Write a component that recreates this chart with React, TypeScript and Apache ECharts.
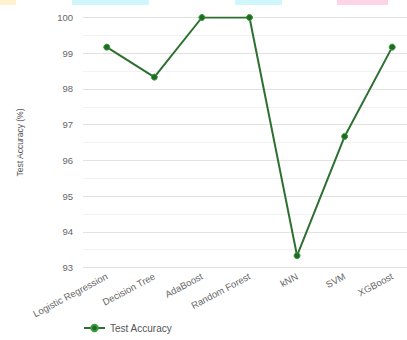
import React, { useEffect, useRef } from "react";
import * as echarts from "echarts";

// Test-set accuracy of each classifier (%)
const models = [
  "Logistic Regression",
  "Decision Tree",
  "AdaBoost",
  "Random Forest",
  "kNN",
  "SVM",
  "XGBoost",
];
const accuracy = [99.17, 98.33, 100, 100, 93.33, 96.67, 99.17];
const seriesName = "Test Accuracy";
const yAxisTitle = "Test Accuracy (%)";

export default function App() {
  const ref = useRef<HTMLDivElement>(null);

  useEffect(() => {
    if (!ref.current) return;
    const chart = echarts.init(ref.current, undefined, { renderer: "svg" });
    chart.setOption({
      animation: false,
      backgroundColor: "#ffffff",
      textStyle: { fontFamily: "Liberation Sans, Arial, sans-serif" },
      graphic: [
        { type: "rect", shape: { x: 0, y: 0, width: 16, height: 5 }, style: { fill: "#fff3cf" } },
        { type: "rect", shape: { x: 72, y: 0, width: 77, height: 5 }, style: { fill: "#cff7fb" } },
        { type: "rect", shape: { x: 235, y: 0, width: 47, height: 5 }, style: { fill: "#cff7fb" } },
        { type: "rect", shape: { x: 337, y: 0, width: 51, height: 5 }, style: { fill: "#fcd4e6" } },
      ],
      grid: { left: 83, right: 0, top: 17.5, bottom: 72.5 },
      legend: {
        data: [seriesName],
        left: 83,
        top: 323,
        padding: 0,
        itemWidth: 21,
        itemHeight: 8,
        textStyle: { color: "#555", fontSize: 10 },
      },
      xAxis: {
        type: "category",
        data: models,
        boundaryGap: true,
        axisLine: { show: false },
        axisTick: { show: false },
        axisLabel: {
          rotate: 28,
          interval: 0,
          margin: 8,
          color: "#666",
          fontSize: 9.5,
        },
        splitLine: { show: false },
      },
      yAxis: {
        type: "value",
        min: 93,
        max: 100,
        interval: 1,
        name: yAxisTitle,
        nameLocation: "middle",
        nameGap: 59,
        nameTextStyle: { color: "#555", fontSize: 8.5 },
        axisLine: { show: false },
        axisTick: { show: false },
        axisLabel: { color: "#666", fontSize: 9.5, margin: 10 },
        splitLine: { lineStyle: { color: "#e2e2e2", width: 1 } },
        minorTick: { show: false, splitNumber: 2 },
        minorSplitLine: { show: true, lineStyle: { color: "#f2f2f2", width: 1 } },
      },
      series: [
        {
          name: seriesName,
          type: "line",
          data: accuracy,
          symbol: "circle",
          symbolSize: 6,
          lineStyle: { color: "#2e7031", width: 2 },
          itemStyle: { color: "#1e6b22", borderColor: "#3c9a40", borderWidth: 1 },
        },
      ],
    });
    return () => chart.dispose();
  }, []);

  // The plot runs slightly past the right edge of the visible frame.
  return (
    <div
      style={{
        position: "absolute",
        left: 0,
        top: 0,
        width: 407,
        height: 340,
        overflow: "hidden",
      }}
    >
      <div ref={ref} style={{ width: 416, height: 340 }} />
    </div>
  );
}
